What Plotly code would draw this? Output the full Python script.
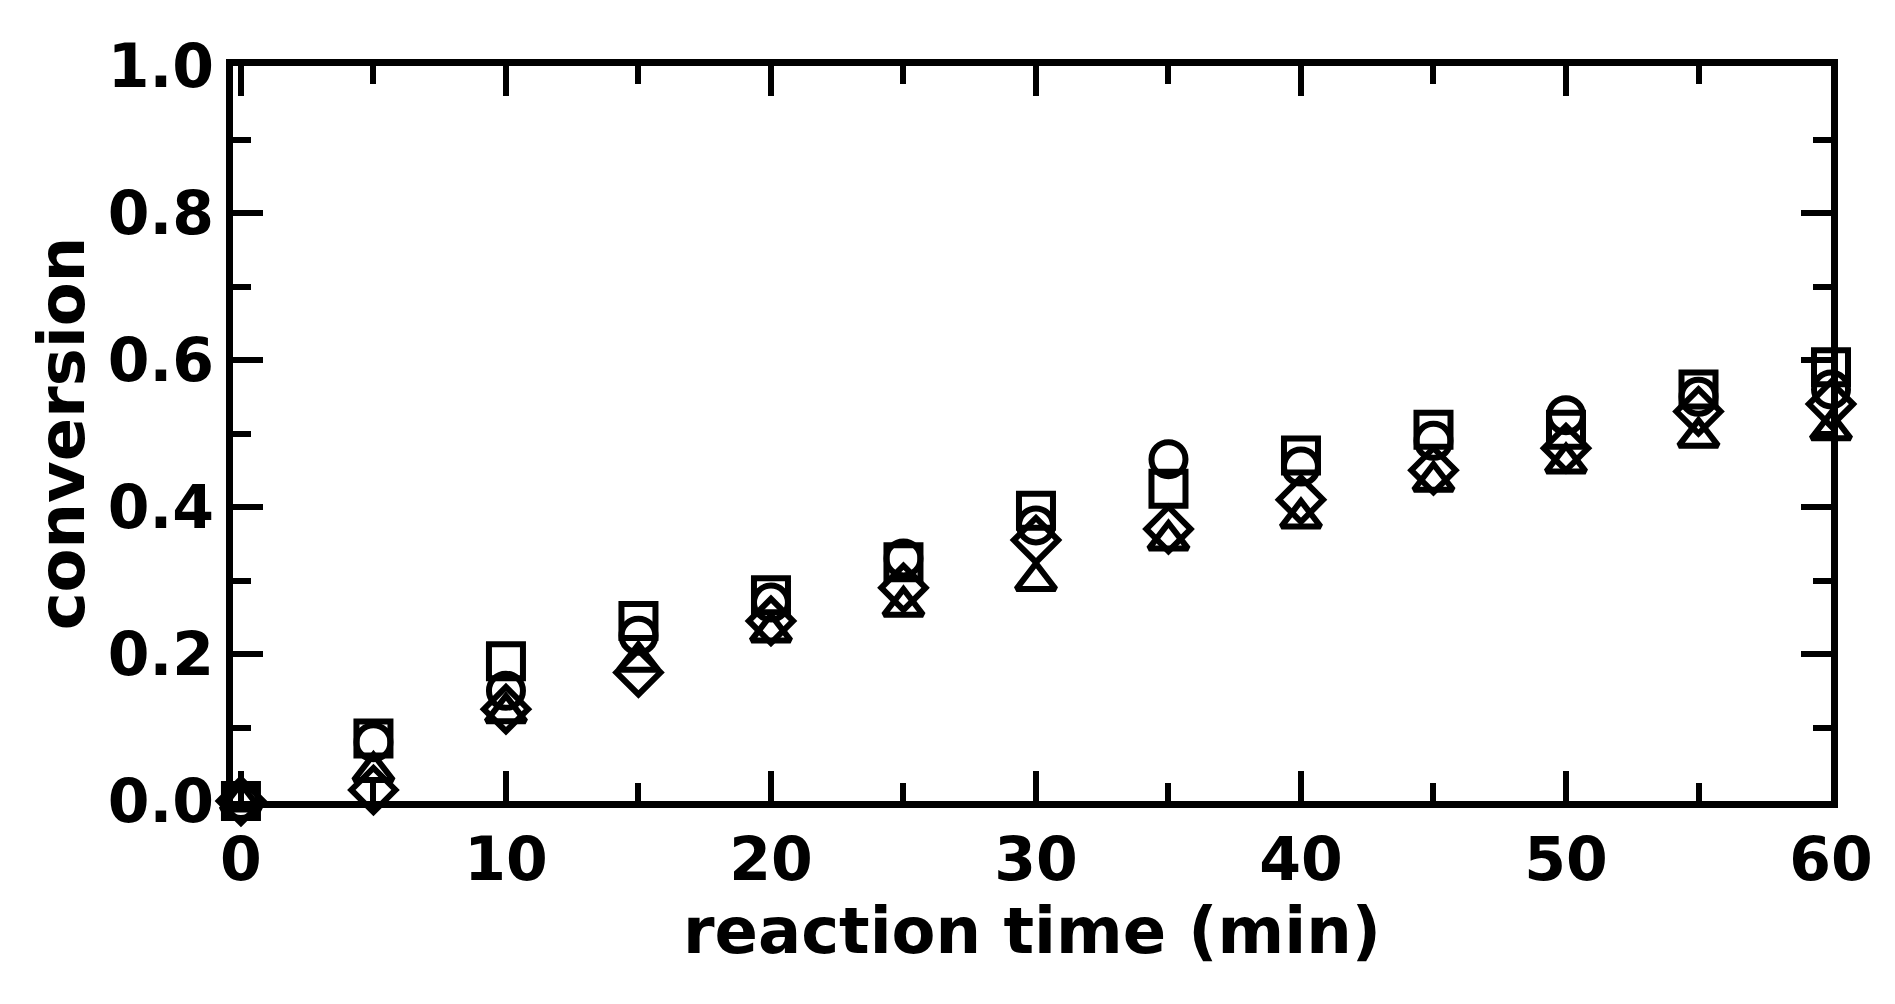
import plotly.graph_objects as go

time = [0, 5, 10, 15, 20, 25, 30, 35, 40, 45, 50, 55, 60]
square = [0.0, 0.085, 0.19, 0.245, 0.28, 0.325, 0.395, 0.425, 0.47, 0.505, 0.505, 0.56, 0.59]
circle = [0.0, 0.08, 0.15, 0.225, 0.27, 0.33, 0.375, 0.465, 0.455, 0.49, 0.525, 0.55, 0.56]
triangle = [0.0, 0.04, 0.12, 0.19, 0.23, 0.265, 0.30, 0.355, 0.385, 0.435, 0.46, 0.495, 0.505]
diamond = [0.0, 0.015, 0.125, 0.175, 0.245, 0.29, 0.355, 0.37, 0.41, 0.45, 0.48, 0.53, 0.54]
xticks = [0, 10, 20, 30, 40, 50, 60]
yticks = [0, 0.2, 0.4, 0.6, 0.8, 1.0]

fig = go.Figure()
for vals, sym in [(square, "square-open"), (circle, "circle-open"),
                  (triangle, "triangle-up-open"), (diamond, "diamond-open")]:
    fig.add_trace(go.Scatter(x=time, y=vals, mode="markers", cliponaxis=False,
                             marker=dict(symbol=sym, size=34, color="black",
                                         line=dict(width=6, color="black"))))

font = dict(family="DejaVu Sans", size=60, color="black")
tfont = dict(family="DejaVu Sans", size=64, color="black")
common = dict(showline=True, linewidth=7, linecolor="black", mirror="ticks",
              ticks="inside", ticklen=30, tickwidth=6, tickcolor="black",
              showgrid=False, zeroline=False, tickfont=font)
fig.update_xaxes(range=[-0.3, 60], tickvals=xticks,
                 ticktext=["<b>%d</b>" % v for v in xticks],
                 minor=dict(dtick=5, ticks="inside", ticklen=18, tickwidth=6, tickcolor="black"),
                 title=dict(text="<b>reaction time (min)</b>", font=tfont, standoff=0),
                 **common)
fig.update_yaxes(range=[0, 1.0], tickvals=yticks,
                 ticktext=["<b>%.1f</b>" % v for v in yticks],
                 minor=dict(dtick=0.1, ticks="inside", ticklen=18, tickwidth=6, tickcolor="black"),
                 title=dict(text="<b>conversion</b>", font=tfont, standoff=5),
                 **common)
fig.update_layout(width=1895, height=1004, showlegend=False,
                  plot_bgcolor="white", paper_bgcolor="white",
                  margin=dict(l=225, r=72, t=58, b=211))
fig.write_html("out.html")
